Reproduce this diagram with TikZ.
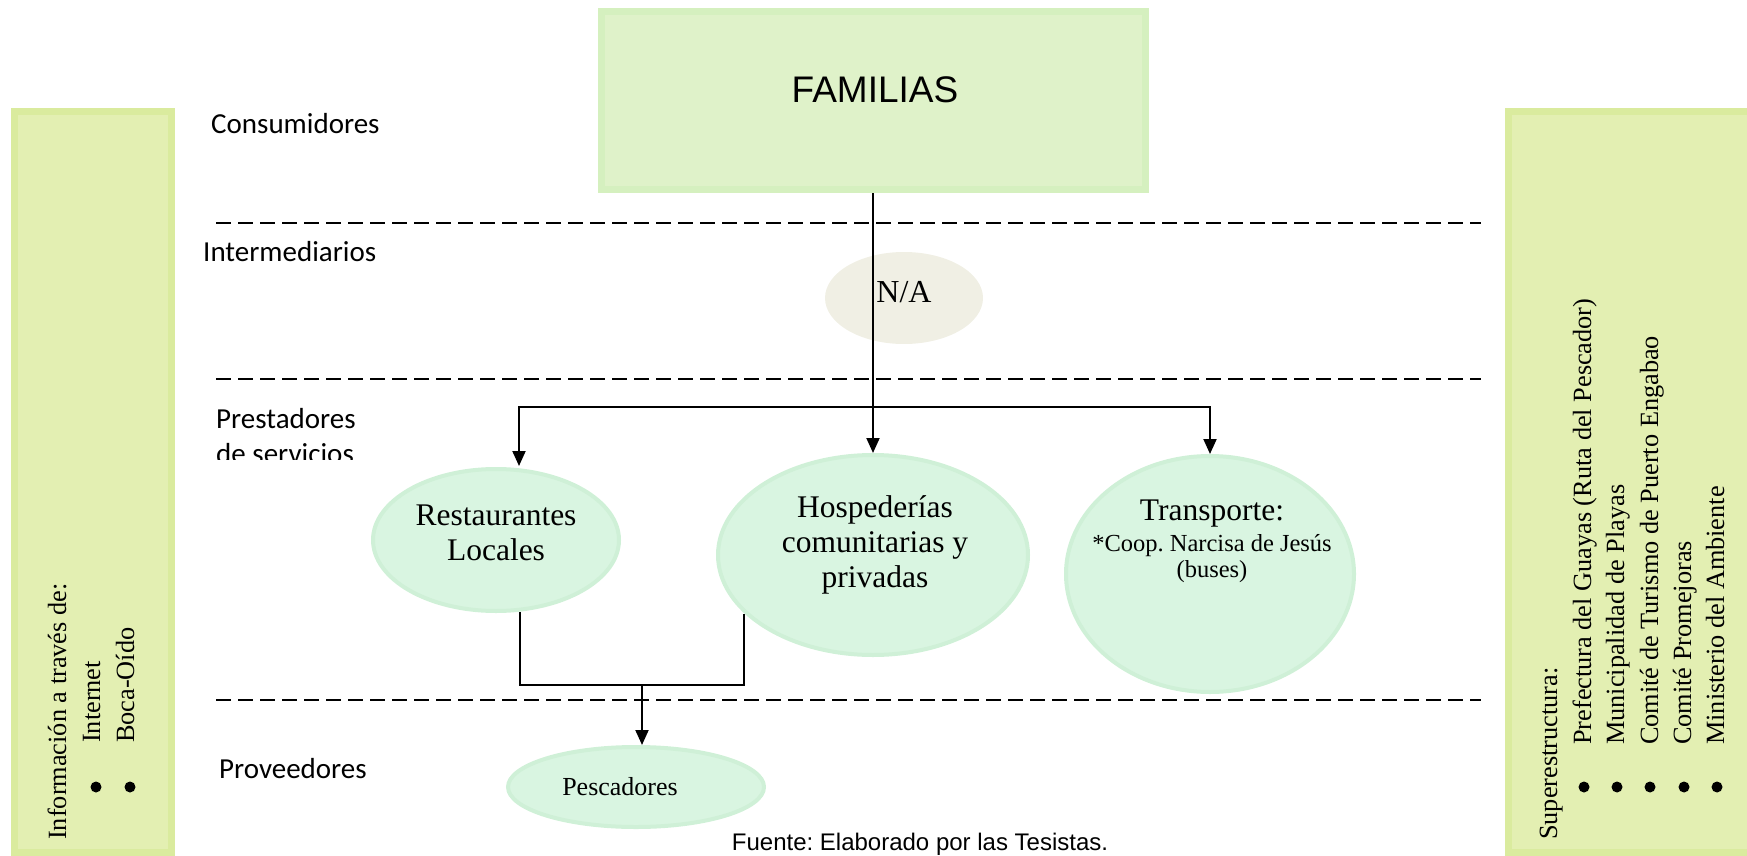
\documentclass[tikz,border=0pt]{standalone}
\usepackage{fontspec}
\setmainfont{Liberation Serif}
\newfontfamily\calibrif{Carlito}
\newfontfamily\arialf{Liberation Sans}
\usetikzlibrary{arrows.meta,shapes.geometric}
\definecolor{sidefill}{HTML}{E3EFB2}
\definecolor{sideedge}{HTML}{DAEB9E}
\definecolor{famfill}{HTML}{DFF2C9}
\definecolor{famedge}{HTML}{D5F0BF}
\definecolor{elfill}{HTML}{D9F5E1}
\definecolor{eledge}{HTML}{CFF0D7}
\definecolor{nafill}{HTML}{F0EFE4}
\frenchspacing
\begin{document}
\frenchspacing
\begin{tikzpicture}[x=1pt,y=-1pt,
  sidebox/.style={rectangle,draw=sideedge,fill=sidefill,line width=7pt,inner sep=0pt},
  fambox/.style={rectangle,draw=famedge,fill=famfill,line width=7pt,inner sep=0pt},
  elli/.style={ellipse,draw=eledge,fill=elfill,line width=4pt,inner sep=0pt},
  nael/.style={ellipse,fill=nafill,inner sep=0pt},
  lvl/.style={anchor=base west,inner sep=0pt,font=\calibrif\fontsize{29}{35}\selectfont},
  rot/.style={rotate=90,anchor=base west,inner sep=0pt,font=\fontsize{26.3}{30}\selectfont},
  eltxt/.style={anchor=base,inner sep=0pt,font=\fontsize{31.5}{35}\selectfont},
  smtxt/.style={anchor=base,inner sep=0pt,font=\fontsize{24.5}{28}\selectfont},
  conn/.style={line width=2pt},
  arr/.style={line width=2pt,-{Triangle[length=15pt,width=13pt]}},
  dashline/.style={line width=2pt,dash pattern=on 15pt off 7pt},
  bul/.style={fill=black}
]
\useasboundingbox (0,0) rectangle (1747,856);

% side boxes
\node[sidebox,minimum width=157pt,minimum height=741pt] (lbox) at (93,482) {};
\node[sidebox,minimum width=250pt,minimum height=741pt] (rbox) at (1633.5,482) {};

% left box text
\node[rot] (linfo) at (66,840) {Información a través de:};
\node[rot] (lint) at (100,743) {Internet};
\node[rot] (lboca) at (134,743) {Boca-Oído};
\fill[bul] (96,787) circle (5.5pt);
\fill[bul] (130,787) circle (5.5pt);

% right box text
\node[rot] (rsup) at (1557,840) {Superestructura:};
\node[rot] (rpre) at (1591,745) {Prefectura del Guayas (Ruta del Pescador)};
\node[rot] (rmun) at (1624,745) {Municipalidad de Playas};
\node[rot] (rtur) at (1658,745) {Comité de Turismo de Puerto Engabao};
\node[rot] (rpro) at (1691,745) {Comité Promejoras};
\node[rot] (rmin) at (1724,745) {Ministerio del Ambiente};
\foreach \bx in {1584,1617,1650,1684,1717} \fill[bul] (\bx,787) circle (5.5pt);

% FAMILIAS
\node[fambox,minimum width=544pt,minimum height=178pt] (fam) at (873,100.5) {};
\node[anchor=base,inner sep=0pt,font=\arialf\fontsize{37}{40}\selectfont] (famt) at (875,103) {FAMILIAS};

% level labels
\node[lvl] (lcons) at (211,133) {Consumidores};
\node[lvl] (linter) at (203,261) {Intermediarios};
\node[lvl] (lprest) at (216,428) {Prestadores};
\begin{scope}
\clip (200,430) rectangle (420,459);
\node[lvl] (lserv) at (216,463) {de servicios};
\end{scope}
\node[lvl] (lprov) at (219,778) {Proveedores};

% dashed separators
\coordinate (d1a) at (216,223); \coordinate (d1b) at (1481,223);
\coordinate (d2a) at (216,379); \coordinate (d2b) at (1481,379);
\coordinate (d3a) at (216,700); \coordinate (d3b) at (1481,700);
\draw[dashline] (d1a) -- (d1b);
\draw[dashline] (d2a) -- (d2b);
\draw[dashline] (d3a) -- (d3b);

% N/A
\node[nael,minimum width=158pt,minimum height=92pt] (na) at (904,298) {};

% ellipses
\node[elli,minimum width=246pt,minimum height=142pt] (res) at (496,540) {};
\node[elli,minimum width=310pt,minimum height=200pt] (hos) at (873,555) {};
\node[elli,minimum width=288pt,minimum height=236pt] (tra) at (1210,574) {};
\node[elli,minimum width=256pt,minimum height=80pt] (pes) at (636,787) {};

% connectors
\draw[arr] (fam.south) -- (fam.south |- hos.north);
\node[anchor=base,inner sep=0pt,font=\fontsize{32}{36}\selectfont] (nat) at (904,302) {N/A};
\coordinate (br) at (873,407);
\coordinate (rtop) at (519,466);
\draw[arr] (br) -| (rtop);
\draw[arr] (br) -| (tra.north);
\coordinate (rb) at (520,612);
\coordinate (hb) at (744,614);
\coordinate (jn) at (642,685);
\draw[conn] (rb) |- (jn) -| (hb);
\draw[arr] (jn) -- (jn |- pes.north);

% ellipse texts
\node[eltxt] (res1) at (496,525) {Restaurantes};
\node[eltxt] (res2) at (496,560) {Locales};
\node[eltxt] (hos1) at (875,517) {Hospederías};
\node[eltxt] (hos2) at (875,552) {comunitarias y};
\node[eltxt] (hos3) at (875,587) {privadas};
\node[eltxt] (tra1) at (1212,520) {Transporte:};
\node[smtxt] (tra2) at (1212,551) {*Coop. Narcisa de Jesús};
\node[smtxt] (tra3) at (1212,577) {(buses)};
\node[anchor=base,inner sep=0pt,font=\fontsize{26}{30}\selectfont] (pest) at (620,795) {Pescadores};

% source
\node[anchor=base,inner sep=0pt,font=\arialf\fontsize{24}{28}\selectfont] (src) at (920,850) {Fuente: Elaborado por las Tesistas.};
\end{tikzpicture}
\end{document}
